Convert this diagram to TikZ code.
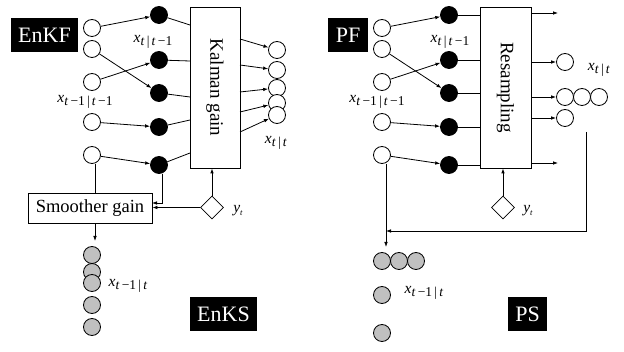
\documentclass[tikz,border=0pt]{standalone}
\usepackage{fontspec}
\setmainfont{Liberation Serif}
\usetikzlibrary{shapes.geometric,arrows.meta}
\newcommand{\xsub}[1]{\textit{x}\raisebox{-3.5pt}{\fontsize{13.5}{13.5}\selectfont #1}}
\newcommand{\sep}{\hspace{2.2pt}}
\begin{document}
\begin{tikzpicture}[x=1pt,y=-1pt,
  line width=0.8pt,
  arr/.style={-{Latex[length=5pt,width=3.6pt]}},
  wc/.style={circle,draw,fill=white,minimum size=17pt,inner sep=0pt},
  bc/.style={circle,draw,fill=black,minimum size=17pt,inner sep=0pt},
  gc/.style={circle,draw,fill={rgb,255:red,192;green,192;blue,192},minimum size=17pt,inner sep=0pt},
  tag/.style={fill=black,text=white,font=\fontsize{22}{24}\selectfont,inner sep=0pt,minimum height=34pt},
  gainbox/.style={draw,fill=white,inner sep=0pt,font=\fontsize{18.5}{20}\selectfont},
  dia/.style={diamond,draw,fill=white,minimum size=23pt,inner sep=0pt},
  lab/.style={inner sep=0pt,font=\fontsize{15.5}{17}\selectfont}
]
\useasboundingbox (0,0) rectangle (624,352);

% ================= Left panel (EnKF / EnKS) =================
\node[tag,minimum width=67pt] (enkf) at (44.5,35) {EnKF};
\node[tag,minimum width=67pt] (enks) at (223.5,314) {EnKS};

\node[gainbox,minimum width=50pt,minimum height=161pt] (kg) at (215,87.5) {};
\node[rotate=-90,font=\fontsize{19}{20}\selectfont] (kgt) at (kg.center) {Kalman gain};

\node[wc] (lw1) at (92,28) {};
\node[wc] (lw2) at (92,49) {};
\node[wc] (lw3) at (92,82) {};
\node[wc] (lw4) at (92,122) {};
\node[wc] (lw5) at (92,155) {};

\node[bc] (lb1) at (159,15) {};
\node[bc] (lb2) at (159,60) {};
\node[bc] (lb3) at (159,93) {};
\node[bc] (lb4) at (159,127) {};
\node[bc] (lb5) at (159,165) {};

\draw[arr] (lw1) -- (lb1);
\draw[arr] (lw2) -- (lb3);
\draw[arr] (lw3) -- (lb2);
\draw[arr] (lw4) -- (lb4);
\draw[arr] (lw5) -- (lb5);

\coordinate (ki1) at (190,25);
\coordinate (ki2) at (190,61);
\coordinate (ki3) at (190,97);
\coordinate (ki4) at (190,120);
\coordinate (ki5) at (190,153);
\draw (lb1) -- (ki1);
\draw (lb2) -- (ki2);
\draw (lb3) -- (ki3);
\draw (lb4) -- (ki4);
\draw (lb5) -- (ki5);

\coordinate (ko1) at (240,39);
\coordinate (ko2) at (240,65);
\coordinate (ko3) at (240,92);
\coordinate (ko4) at (240,112);
\coordinate (ko5) at (240,132);
\node[wc] (lo1) at (277,50) {};
\node[wc] (lo2) at (277,70) {};
\node[wc] (lo3) at (277,88) {};
\node[wc] (lo4) at (277,103) {};
\node[wc] (lo5) at (277,115) {};
\draw[arr] (ko1) -- (lo1);
\draw[arr] (ko2) -- (lo2);
\draw[arr] (ko3) -- (lo3);
\draw[arr] (ko4) -- (lo4);
\draw[arr] (ko5) -- (lo5);

\node[lab] (llab1) at (153,42) {\xsub{\textit{t}\sep|\sep\textit{t}\sep−1}};
\node[lab] (llab2) at (85,102) {\xsub{\textit{t}\sep−1\sep|\sep\textit{t}\sep−1}};
\node[lab] (llab3) at (276,143) {\xsub{\textit{t}\sep|\sep\textit{t}}};

\node[gainbox,minimum width=124pt,minimum height=30pt] (sg) at (90,208) {Smoother gain};
\node[dia] (ldia) at (212,207.5) {};
\node[lab] (lyt) at (238,211) {\textit{y}\raisebox{-3pt}{\fontsize{8.5}{8.5}\selectfont\textit{t}}};

\coordinate (lwd) at (95,155);
\draw (lwd |- lw5.south) -- (lwd |- sg.north);
\coordinate (lsgin1) at (152,203);
\coordinate (lbd) at (162,165);
\draw[arr] (lbd |- lb5.south) |- (lsgin1);
\draw[arr] (ldia.west) -- (ldia.west -| sg.east);
\draw[arr] (ldia.north) -- (ldia.north |- kg.south);
\coordinate (lsgo) at (95,241);
\draw[arr] (lwd |- sg.south) -- (lsgo);

\node[gc] (lg1) at (92,255) {};
\node[gc] (lg2) at (92,272) {};
\node[gc] (lg3) at (92,283) {};
\node[gc] (lg4) at (92,305) {};
\node[gc] (lg5) at (92,327) {};
\node[lab] (llab4) at (128,286) {\xsub{\textit{t}\sep−1\sep|\sep\textit{t}}};

% ================= Right panel (PF / PS) =================
\node[tag,minimum width=40pt] (pf) at (348,35) {PF};
\node[tag,minimum width=39pt] (ps) at (527.5,314) {PS};

\node[gainbox,minimum width=51pt,minimum height=161pt] (rs) at (505.5,87.5) {};
\node[rotate=-90,font=\fontsize{19}{20}\selectfont] (rst) at (rs.center) {Resampling};

\node[wc] (rw1) at (382,28) {};
\node[wc] (rw2) at (382,49) {};
\node[wc] (rw3) at (382,82) {};
\node[wc] (rw4) at (382,122) {};
\node[wc] (rw5) at (382,155) {};

\node[bc] (rb1) at (449,15) {};
\node[bc] (rb2) at (449,60) {};
\node[bc] (rb3) at (449,93) {};
\node[bc] (rb4) at (449,127) {};
\node[bc] (rb5) at (449,165) {};

\draw[arr] (rw1) -- (rb1);
\draw[arr] (rw2) -- (rb3);
\draw[arr] (rw3) -- (rb2);
\draw[arr] (rw4) -- (rb4);
\draw[arr] (rw5) -- (rb5);

\draw (rb1) -- (rb1 -| rs.west);
\draw (rb2) -- (rb2 -| rs.west);
\draw (rb3) -- (rb3 -| rs.west);
\draw (rb4) -- (rb4 -| rs.west);
\draw (rb5) -- (rb5 -| rs.west);

\node[wc] (ro1) at (565,62) {};
\node[wc] (ro2) at (565,97) {};
\node[wc] (ro3) at (582,97) {};
\node[wc] (ro4) at (599,97) {};
\node[wc] (ro5) at (565,118) {};
\coordinate (re1) at (558,13);
\coordinate (re5) at (558,163);
\draw[arr] (re1 -| rs.east) -- (re1);
\draw[arr] (ro1 -| rs.east) -- (ro1);
\draw[arr] (ro2 -| rs.east) -- (ro2);
\draw[arr] (ro5 -| rs.east) -- (ro5);
\draw[arr] (re5 -| rs.east) -- (re5);

\node[lab] (rlab1) at (450,42) {\xsub{\textit{t}\sep|\sep\textit{t}\sep−1}};
\node[lab] (rlab2) at (377,102) {\xsub{\textit{t}\sep−1\sep|\sep\textit{t}\sep−1}};
\node[lab] (rlab3) at (599,70) {\xsub{\textit{t}\sep|\sep\textit{t}}};

\node[dia] (rdia) at (503,207.5) {};
\node[lab] (ryt) at (528,211) {\textit{y}\raisebox{-3pt}{\fontsize{8.5}{8.5}\selectfont\textit{t}}};
\draw[arr] (rdia.north) -- (rdia.north |- rs.south);

\coordinate (rfb1) at (586,132);
\coordinate (rfb2) at (586,231);
\coordinate (rwd) at (386,155);
\draw[arr] (rfb1) -- (rfb2) -- (rwd |- rfb2);
\coordinate (rgo) at (386,247);
\draw[arr] (rwd |- rw5.south) -- (rgo);

\node[gc] (rg1) at (382,261) {};
\node[gc] (rg2) at (399,261) {};
\node[gc] (rg3) at (416,261) {};
\node[gc] (rg4) at (382,295) {};
\node[gc] (rg5) at (382,333) {};
\node[lab] (rlab4) at (424,293) {\xsub{\textit{t}\sep−1\sep|\sep\textit{t}}};
\end{tikzpicture}
\end{document}
